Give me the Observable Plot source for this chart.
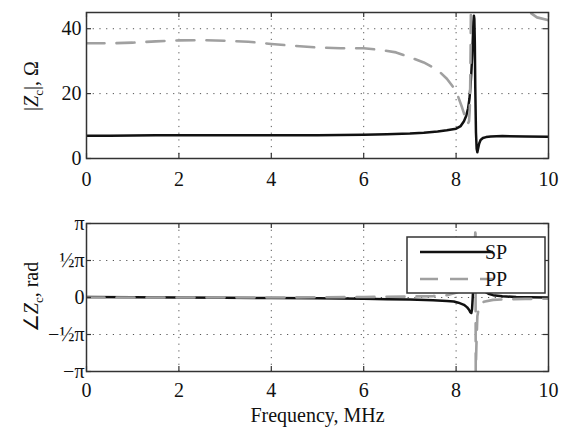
<!DOCTYPE html>
<html><head><meta charset="utf-8">
<script src="https://cdn.jsdelivr.net/npm/d3@7"></script>
<script src="https://cdn.jsdelivr.net/npm/@observablehq/plot@0.6"></script>
<style>body{margin:0;background:#fff;} #chart{width:563px;height:428px;} svg{display:block;}</style>
</head><body><div id="chart"></div>
<script>
// ---- data ----
const xTicks = [0, 2, 4, 6, 8, 10];
const xGrid = [2, 4, 6, 8];
const magTicks = [0, 20, 40];
const magTickLabels = ["0", "20", "40"];
const phTicks = [-Math.PI, -Math.PI / 2, 0, Math.PI / 2, Math.PI];
const phTickLabels = ["\u2212\u03c0", "\u2212\u00bd\u03c0", "0", "\u00bd\u03c0", "\u03c0"];
const seriesNames = ["SP", "PP"];

const spMagFreq = [0, 0.5, 1, 1.5, 2, 2.5, 3, 3.5, 4, 4.5, 5, 5.5, 6, 6.5, 7, 7.3, 7.6, 7.8, 8.0, 8.1, 8.17, 8.22, 8.26, 8.29, 8.31, 8.33, 8.35, 8.365, 8.375, 8.385, 8.395, 8.405, 8.415, 8.43, 8.445, 8.46, 8.48, 8.5, 8.53, 8.58, 8.65, 8.75, 9.0, 9.5, 10];
const spMag = [7.0, 7.05, 7.1, 7.15, 7.2, 7.2, 7.2, 7.15, 7.15, 7.15, 7.2, 7.25, 7.3, 7.45, 7.7, 7.95, 8.3, 8.7, 9.2, 10.0, 11.5, 13.2, 15.5, 18.5, 22, 26.5, 32, 38, 42, 44, 43, 36, 22, 8, 3, 1.9, 3.3, 4.6, 5.7, 6.3, 6.6, 6.8, 6.9, 6.8, 6.7];

const ppMagFreq = [0, 0.5, 1, 1.5, 2, 2.5, 3, 3.5, 4, 4.5, 5, 5.5, 6, 6.4, 6.7, 7.0, 7.3, 7.6, 7.8, 8.0, 8.13, 8.2, 8.25, 8.28, 8.295, 8.305, 8.315, 8.325, 8.35, 8.4, 8.5, 8.7, 8.9, 9.1, 9.3, 9.5, 9.6, 9.75, 10];
const ppMag = [35.5, 35.5, 35.7, 36.1, 36.4, 36.5, 36.3, 36.0, 35.3, 34.7, 34.2, 34.0, 34.0, 33.4, 32.7, 31.2, 29.6, 27.3, 24.6, 20.8, 15.7, 12.6, 10.6, 11.5, 15, 22, 35, 55, 100, 170, 140, 95, 75, 62, 54, 47.5, 45, 43.5, 42.6];

const spPhFreq = [0, 1, 2, 3, 4, 5, 6, 6.5, 7, 7.5, 7.8, 7.95, 8.05, 8.17, 8.24, 8.28, 8.31, 8.33, 8.345, 8.36, 8.375, 8.39, 8.41, 8.44, 8.5, 8.6, 8.7, 8.8, 9.0, 9.3, 9.6, 10];
const spPh = [0.02, 0.01, 0, -0.01, -0.02, -0.03, -0.05, -0.07, -0.09, -0.12, -0.15, -0.17, -0.22, -0.31, -0.42, -0.52, -0.63, -0.66, -0.5, 0, 0.6, 0.9, 0.8, 0.6, 0.45, 0.28, 0.16, 0.1, 0.05, 0.02, 0.01, 0];

const ppPhFreq = [0, 1, 2, 3, 4, 5, 6, 7, 7.5, 7.8, 7.9, 8.0, 8.1, 8.2, 8.3, 8.36, 8.4, 8.42, 8.425, 8.44, 8.46, 8.5, 8.6, 8.8, 9.0, 9.5, 10];
const ppPh = [0, 0, 0, 0, 0, 0.01, 0.02, 0.04, 0.06, 0.1, 0.15, 0.2, 0.28, 0.4, 0.65, 1.1, 2.0, 3.0, -3.14, -2.0, -0.8, -0.35, -0.18, -0.1, -0.08, -0.06, -0.05];

// ---- helpers ----
const font = "'Liberation Serif', 'Times New Roman', serif";
const FS = 20;
const W = 563, ML = 86, MR = 15;
const spColor = "#111", ppColor = "#a0a0a0", frameColor = "#333";
const ppDash = "18,12";
const toRows = (fs, vs) => fs.map((f, i) => ({f, v: vs[i]}));

function panel({height, mt, mb, domain, yTicks, yLabels, yGrid, ydx, xdy, sp, pp, xTitle}) {
  const fh = height - mt - mb;
  const fw = W - ML - MR;
  const marks = [
    Plot.gridX(xGrid, {stroke: "#555", strokeOpacity: 1, strokeWidth: 1, strokeDasharray: "1.2,5.5"}),
    Plot.gridY(yGrid, {stroke: "#555", strokeOpacity: 1, strokeWidth: 1, strokeDasharray: "1.2,5.5"}),
    Plot.line(sp, {x: "f", y: "v", stroke: spColor, strokeWidth: 2.5, clip: true}),
    Plot.line(pp, {x: "f", y: "v", stroke: ppColor, strokeWidth: 2.6, strokeDasharray: ppDash, clip: true}),
    Plot.tickX(xTicks, {x: d => d, insetTop: fh - 5, stroke: frameColor, strokeWidth: 1.2}),
    Plot.tickX(xTicks, {x: d => d, insetBottom: fh - 5, stroke: frameColor, strokeWidth: 1.2}),
    Plot.tickY(yTicks, {y: d => d, insetRight: fw - 5, stroke: frameColor, strokeWidth: 1.2}),
    Plot.tickY(yTicks, {y: d => d, insetLeft: fw - 5, stroke: frameColor, strokeWidth: 1.2}),
    Plot.text(xTicks, {x: d => d, frameAnchor: "bottom", dy: xdy, lineAnchor: "middle", text: d => String(d), fontSize: FS, fill: "#111"}),
    Plot.text(yTicks, {y: d => d, frameAnchor: "left", dx: ydx, textAnchor: "end", lineAnchor: "middle", text: (d, i) => yLabels[i], fontSize: FS, fill: "#111"}),
    Plot.frame({stroke: frameColor, strokeWidth: 1.5})
  ];
  if (xTitle) marks.push(Plot.text([xTitle], {frameAnchor: "bottom", dy: 44, lineAnchor: "middle", text: d => d, fontSize: FS, fill: "#111"}));
  return Plot.plot({
    width: W, height, marginTop: mt, marginBottom: mb, marginLeft: ML, marginRight: MR,
    style: {fontFamily: font, background: "white", color: "#111", overflow: "visible"},
    x: {domain: [0, 10], axis: null},
    y: {domain, axis: null},
    marks
  });
}

function yTitle(svg, parts, cx, cy) {
  const t = d3.select(svg).append("text")
    .attr("transform", `translate(${cx},${cy}) rotate(-90)`)
    .attr("text-anchor", "middle")
    .attr("fill", "#111")
    .style("font-family", font).style("font-size", FS + "px");
  parts.forEach(p => {
    const ts = t.append("tspan").text(p.t);
    if (p.italic) ts.style("font-style", "italic");
    if (p.sub) ts.attr("dy", 5).style("font-size", "13px");
    if (p.after) ts.attr("dy", -5);
  });
}

const topPlot = panel({
  height: 200, mt: 12, mb: 42, domain: [0, 45],
  yTicks: magTicks, yLabels: magTickLabels, yGrid: [20, 40], ydx: -5, xdy: 21,
  sp: toRows(spMagFreq, spMag), pp: toRows(ppMagFreq, ppMag)
});
const botPlot = panel({
  height: 228, mt: 23, mb: 57, domain: [-Math.PI, Math.PI],
  yTicks: phTicks, yLabels: phTickLabels, yGrid: [-Math.PI / 2, 0, Math.PI / 2], ydx: -2, xdy: 19,
  sp: toRows(spPhFreq, spPh), pp: toRows(ppPhFreq, ppPh), xTitle: "Frequency, MHz"
});

yTitle(topPlot, [{t: "|"}, {t: "Z", italic: true}, {t: "c", sub: true}, {t: "|, \u03a9", after: true}], 38, 86);
yTitle(botPlot, [{t: "\u2220"}, {t: "Z", italic: true}, {t: "c", sub: true}, {t: ", rad", after: true}], 38, 97);

// legend inside bottom panel
(function legend(svg) {
  const g = d3.select(svg).append("g");
  g.append("rect").attr("x", 407).attr("y", 37).attr("width", 138).attr("height", 56)
    .attr("fill", "white").attr("stroke", frameColor).attr("stroke-width", 1.5);
  const rows = [{name: seriesNames[0], y: 52, color: spColor, w: 2.5, dash: null},
                {name: seriesNames[1], y: 79, color: ppColor, w: 2.6, dash: ppDash}];
  rows.forEach(r => {
    g.append("line").attr("x1", 420).attr("x2", 493).attr("y1", r.y).attr("y2", r.y)
      .attr("stroke", r.color).attr("stroke-width", r.w).attr("stroke-dasharray", r.dash);
    g.append("text").attr("x", 496).attr("y", r.y).attr("dy", "0.35em").text(r.name)
      .attr("fill", "#111").style("font-family", font).style("font-size", FS + "px");
  });
})(botPlot);

const chart = document.getElementById("chart");
chart.append(topPlot, botPlot);
</script>
</body></html>
